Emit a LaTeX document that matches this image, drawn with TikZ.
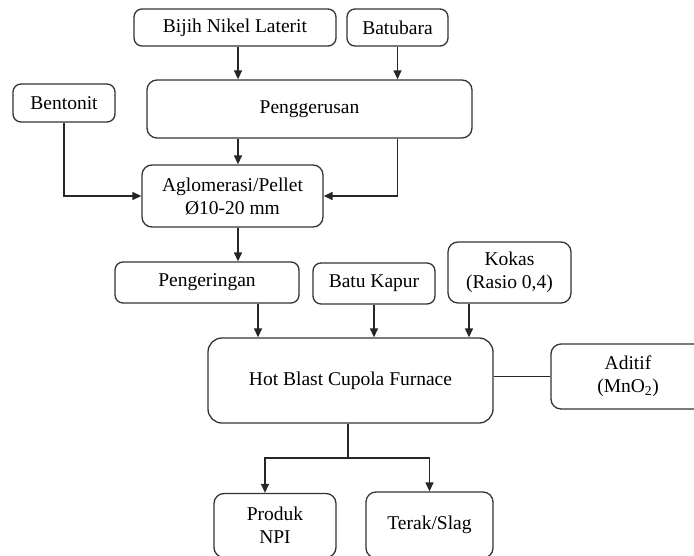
\documentclass[tikz,border=0pt]{standalone}
\usepackage{fontspec}
\setmainfont{Liberation Serif}
\usetikzlibrary{arrows.meta}
\begin{document}
\begin{tikzpicture}[x=1pt,y=-1pt,
  box/.style={draw=black!80, line width=1.3pt, rounded corners=8pt, align=center,
    inner sep=0pt, font=\fontsize{19.5}{23}\selectfont},
  conn/.style={draw=black!85, line width=1.3pt},
  arr/.style={conn, -{Triangle[width=8pt,length=9pt]}}]
\useasboundingbox (0,0) rectangle (694,555);
% nodes
\node[box, minimum width=202, minimum height=37] (bijih) at (235,27.5) {Bijih Nikel Laterit};
\node[box, minimum width=101, minimum height=37] (batubara) at (397.5,27.5) {Batubara};
\node[box, minimum width=325, minimum height=58, rounded corners=10pt] (peng) at (309.5,109) {Penggerusan};
\node[box, minimum width=102, minimum height=38] (bentonit) at (64,103) {Bentonit};
\node[box, minimum width=181, minimum height=62, rounded corners=10pt] (aglo) at (232.5,196) {Aglomerasi/Pellet\\Ø10-20 mm};
\node[box, minimum width=184, minimum height=41] (kering) at (207,282.5) {Pengeringan};
\node[box, minimum width=122, minimum height=41] (kapur) at (374,283.5) {Batu Kapur};
\node[box, minimum width=123, minimum height=61, rounded corners=10pt] (kokas) at (509.5,272.5) {Kokas\\(Rasio 0,4)};
\node[box, minimum width=285, minimum height=85, rounded corners=14pt] (hb) at (350.5,380.5) {Hot Blast Cupola Furnace};
\node[box, minimum width=154, minimum height=65, rounded corners=10pt] (aditif) at (628,376.5) {Aditif\\(MnO\textsubscript{2})};
\node[box, minimum width=122, minimum height=64, rounded corners=10pt] (npi) at (275,525.5) {Produk\\NPI};
\node[box, minimum width=127, minimum height=66, rounded corners=10pt] (terak) at (429.5,525) {Terak/Slag};
% helper coordinates
\coordinate (c1) at (238,0);
\coordinate (c3) at (258,0);
\coordinate (c4) at (469,0);
\coordinate (c5) at (265,0);
\coordinate (split) at (348,458);
% connectors
\draw[arr] (bijih.south -| c1) -- (peng.north -| c1);
\draw[arr] (batubara.south) -- (peng.north -| batubara);
\draw[arr] (peng.south -| c1) -- (aglo.north -| c1);
\draw[arr] (peng.south -| batubara) |- (aglo.east);
\draw[arr] (bentonit.south) |- (aglo.west);
\draw[arr] (aglo.south -| c1) -- (kering.north -| c1);
\draw[arr] (kering.south -| c3) -- (hb.north -| c3);
\draw[arr] (kapur.south) -- (hb.north -| kapur);
\draw[arr] (kokas.south -| c4) -- (hb.north -| c4);
\draw[conn] (hb.east |- aditif.west) -- (aditif.west);
\draw[conn] (hb.south -| split) -- (split);
\draw[arr] (split) -| (npi.north -| c5);
\draw[arr] (split) -| (terak.north);
\end{tikzpicture}
\end{document}
